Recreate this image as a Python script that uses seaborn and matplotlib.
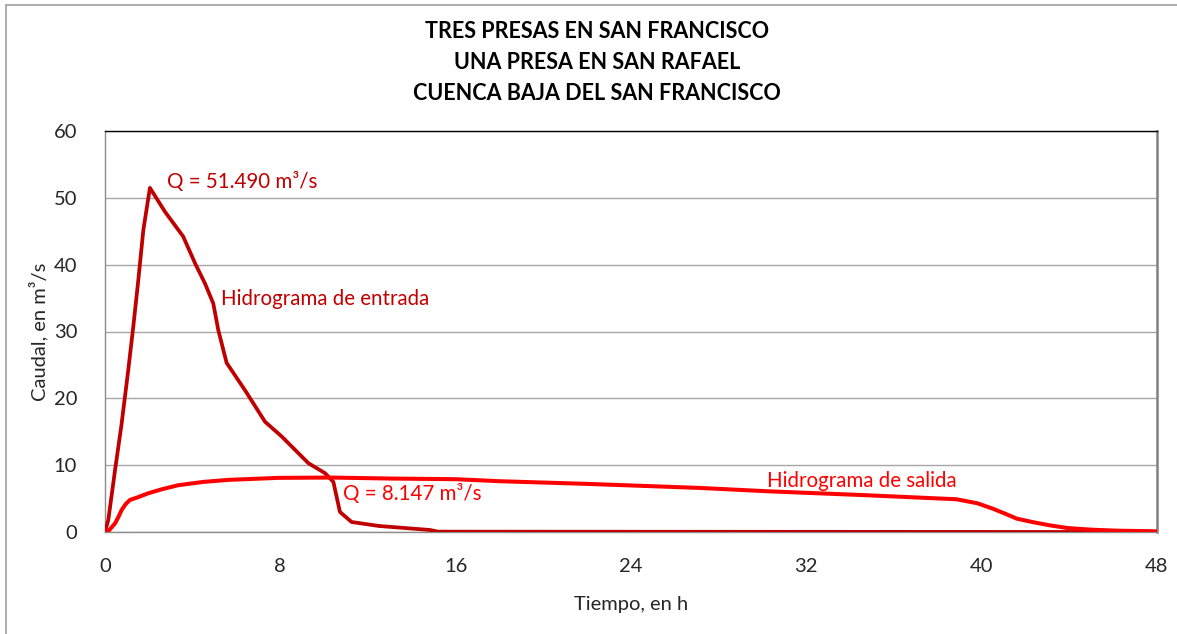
import matplotlib
matplotlib.use("Agg")
import matplotlib.pyplot as plt
from matplotlib.lines import Line2D
import seaborn as sns
import pandas as pd

# ---- data ----
t_entrada = [0, 0.15, 0.46, 0.75, 1.06, 1.3, 1.52, 1.75, 2.05, 2.74, 3.19, 3.57, 4.11, 4.56,
             4.94, 5.17, 5.55, 6.39, 7.30, 8.06, 9.28, 10.04, 10.42, 10.72, 11.25, 12.5,
             14.83, 15.2, 48]
q_entrada = [0, 1.8, 9.3, 16.0, 24.2, 31.0, 37.7, 45.2, 51.49, 47.9, 45.9, 44.2, 40.2, 37.2,
             34.2, 30.2, 25.3, 21.2, 16.5, 14.3, 10.3, 8.8, 7.5, 3.0, 1.5, 0.9,
             0.3, 0.05, 0.0]

t_salida = [0, 0.2, 0.46, 0.62, 0.76, 0.95, 1.14, 1.5, 1.98, 2.6, 3.34, 4.5, 5.63, 7.9, 10.3,
            13, 16, 18, 22, 27.1, 30.2, 34.75, 38.85, 39.8, 40.5, 41.1, 41.6, 42.3, 43.1,
            43.9, 45, 46.15, 48]
q_salida = [0, 0.3, 1.3, 2.3, 3.3, 4.2, 4.8, 5.2, 5.8, 6.4, 7.0, 7.5, 7.8, 8.1, 8.147,
            8.0, 7.9, 7.6, 7.2, 6.6, 6.1, 5.5, 4.9, 4.3, 3.5, 2.7, 2.0, 1.5, 1.0,
            0.6, 0.35, 0.2, 0.1]

x_ticks = [0, 8, 16, 24, 32, 40, 48]
y_ticks = [0, 10, 20, 30, 40, 50, 60]
titulo = ["TRES PRESAS EN SAN FRANCISCO", "UNA PRESA EN SAN RAFAEL",
          "CUENCA BAJA DEL SAN FRANCISCO"]

c_in = "#C00000"
c_out = "#FF0000"

sns.set_style("white")
plt.rcParams["font.family"] = ["Lato", "DejaVu Sans"]

fig = plt.figure(figsize=(11.77, 6.34), dpi=100)
ax = fig.add_axes([105/1177, 1-532/634, (1157-105)/1177, (532-131)/634])

df_in = pd.DataFrame({"t": t_entrada, "q": q_entrada})
df_out = pd.DataFrame({"t": t_salida, "q": q_salida})
sns.lineplot(data=df_in, x="t", y="q", ax=ax, color=c_in, linewidth=2.7,
             estimator=None, sort=False, zorder=3)
sns.lineplot(data=df_out, x="t", y="q", ax=ax, color=c_out, linewidth=2.9,
             estimator=None, sort=False, zorder=4)

ax.set_xlim(0, 48)
ax.set_ylim(0, 60)
ax.set_xticks(x_ticks)
ax.set_yticks(y_ticks)
ax.yaxis.grid(True, color="#A6A6A6", linewidth=1.0)
ax.set_axisbelow(True)
for s in ["left", "bottom"]:
    ax.spines[s].set_color("#8C8C8C")
    ax.spines[s].set_linewidth(1.0)
ax.spines["right"].set_color("#808080")
ax.spines["right"].set_linewidth(1.8)
ax.spines["top"].set_color("black")
ax.spines["top"].set_linewidth(1.0)
ax.tick_params(axis="y", length=0, pad=20, labelsize=14.5)
ax.tick_params(axis="x", length=0, pad=19, labelsize=14.5)

ax.set_xlabel("Tiempo, en h", fontsize=14.5, labelpad=15)
ax.set_ylabel("Caudal, en m³/s", fontsize=14.5, labelpad=4)

ax.text(2.85, 52.4, "Q = 51.490 m³/s", color=c_in, fontsize=14.8, va="center", ha="left")
ax.text(5.3, 34.9, "Hidrograma de entrada", color=c_in, fontsize=14.8, va="center", ha="left")
ax.text(10.85, 5.7, "Q = 8.147 m³/s", color=c_out, fontsize=14.8, va="center", ha="left")
ax.text(30.2, 7.7, "Hidrograma de salida", color=c_out, fontsize=14.8, va="center", ha="left")

for i, line in enumerate(titulo):
    fig.text(597/1177, 1 - (32 + 30.5*i)/634, line, ha="center", va="center",
             fontsize=15.5, fontweight="bold", color="black")

# outer chart frame (left and top edges visible)
fig.add_artist(Line2D([6/1177, 6/1177], [0, 1-5/634], transform=fig.transFigure,
                      color="#A0A0A0", linewidth=1.2))
fig.add_artist(Line2D([6/1177, 1], [1-5/634, 1-5/634], transform=fig.transFigure,
                      color="#A0A0A0", linewidth=1.2))

fig.savefig("out.png", dpi=100)
